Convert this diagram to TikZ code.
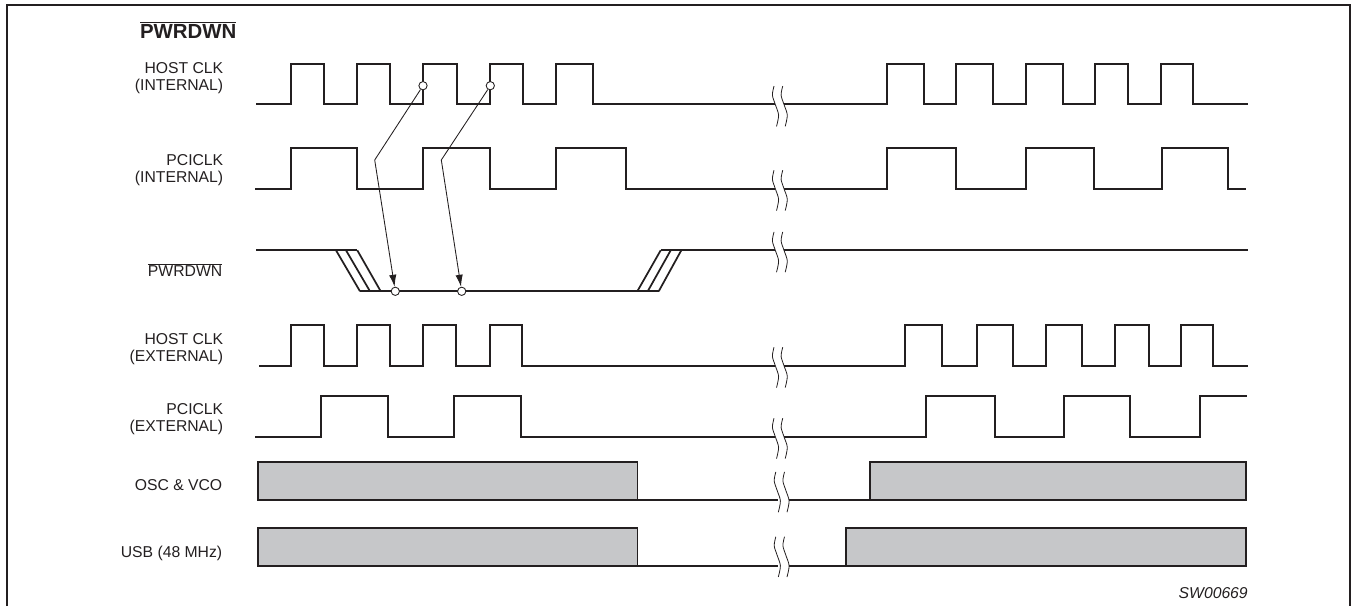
\documentclass[tikz,border=0pt]{standalone}
\usepackage{fontspec}
\setmainfont{Liberation Sans}
\usetikzlibrary{arrows.meta, positioning}

\definecolor{inkdark}{HTML}{231F20}
\definecolor{boxgrey}{HTML}{C6C7C9}

\newcommand{\signalbreak}[2]{%
    \foreach \d in {0,8.7} {
        \draw[wave, shift={(#1+\d,#2)}] plot[smooth] coordinates {(0,-18.4) (-1.6,-9.4) (1.3,0) (4.6,10.6) (2.5,21.9)};
    }
}

\begin{document}
\begin{tikzpicture}[
    x=0.75pt, y=-0.75pt,
    every node/.style={inner sep=0pt, text=inkdark},
    label/.style={anchor=base east, font=\fontsize{11.8}{12.75}\selectfont},
    twoline/.style={anchor=east, align=right, font=\fontsize{11.8}{12.75}\selectfont},
    signal/.style={draw=inkdark, line width=1.5pt, line join=miter},
    frameline/.style={draw=inkdark, line width=1.6pt},
    wave/.style={draw=inkdark, line width=0.6pt},
    edgeline/.style={draw=inkdark, line width=1.3pt},
    block/.style={draw=inkdark, fill=boxgrey, line width=1.4pt},
    pointer/.style={draw=inkdark, line width=0.65pt, -{Latex[length=9pt, width=5.5pt]}},
    dot/.style={circle, draw=inkdark, fill=white, line width=0.65pt, minimum size=6.2pt},
]
    \useasboundingbox (0,0) rectangle (1351,606);

    % Frame
    \draw[frameline] (6.6,606) |- (1350,5.4) -- (1350,606);

    % Labels
    \node (title) [anchor=base east, font=\bfseries\fontsize{15.3}{16}\selectfont] at (236.7,38.5) {$\overline{\mbox{PWRDWN}}$};
    \node (hostint) [twoline] at (223.5,78.5) {HOST CLK\\(INTERNAL)};
    \node (pciint) [twoline] at (223.5,170) {PCICLK\\(INTERNAL)};
    \node (pwrdwn) [label] at (222.5,276.7) {$\overline{\mbox{PWRDWN}}$};
    \node (hostext) [twoline] at (223.5,349) {HOST CLK\\(EXTERNAL)};
    \node (pciext) [twoline] at (223.5,419.5) {PCICLK\\(EXTERNAL)};
    \node (osc) [label] at (222.5,490) {OSC \& VCO};
    \node (usb) [label] at (222.5,557.3) {USB (48 MHz)};
    \node (code) [anchor=base east, font=\itshape\fontsize{11.8}{12}\selectfont] at (1248,598.3) {SW00669};

    % HOST CLK (INTERNAL)
    \draw[signal] (256,104.5) -| (290.7,64.3) -| (324,104.5) -| (356.7,64.3) -| (390,104.5) -| (423.3,64.3) -| (456.7,104.5) -| (489.7,64.3) -| (522.7,104.5) -| (555.7,64.3) -| (592.7,104.5) -- (775.2,104.5);
    \draw[signal] (783.5,104.5) -| (887.3,64.3) -| (924.3,104.5) -| (956.2,64.3) -| (993.2,104.5) -| (1025.6,64.3) -| (1062.5,104.5) -| (1094.5,64.3) -| (1128,104.5) -| (1161,64.3) -| (1192.5,104.5) -- (1247.8,104.5);
    \signalbreak{774}{104.5}

    % PCICLK (INTERNAL)
    \draw[signal] (255,188.7) -| (290.7,148.3) -| (356.7,188.7) -| (423.3,148.3) -| (489.7,188.7) -| (555.7,148.3) -| (625.7,188.7) -- (775.2,188.7);
    \draw[signal] (783.5,188.7) -| (887.3,148.3) -| (956.2,188.7) -| (1025.6,148.3) -| (1093.7,188.7) -| (1161.8,148.3) -| (1228.2,188.7) -- (1246,188.7);
    \signalbreak{774}{188.7}

    % PWRDWN
    \draw[signal] (256,250.3) -- (357.3,250.3);
    \draw[edgeline] (336,250.3) -- (360,291.3);
    \draw[edgeline] (346,250.3) -- (370,291.3);
    \draw[edgeline] (357.3,250.3) -- (380.7,291.3);
    \draw[signal] (360,291.3) -- (658.7,291.3);
    \draw[edgeline] (637.3,291.3) -- (660.7,250.3);
    \draw[edgeline] (647.7,291.3) -- (670.7,250.3);
    \draw[edgeline] (658.7,291.3) -- (681.3,250.3);
    \draw[signal] (660.7,250.3) -- (775.2,250.3);
    \draw[signal] (783.5,250.3) -- (1247.8,250.3);
    \signalbreak{774}{250.3}

    % HOST CLK (EXTERNAL)
    \draw[signal] (259,365.7) -| (291,325) -| (323.7,365.7) -| (357,325) -| (389.7,365.7) -| (423.2,325) -| (455.8,365.7) -| (489.7,325) -| (522.3,365.7) -- (775.2,365.7);
    \draw[signal] (783.5,365.7) -| (905.1,325) -| (942.1,365.7) -| (976.6,325) -| (1013.1,365.7) -| (1045.5,325) -| (1082,365.7) -| (1114.5,325) -| (1148.5,365.7) -| (1180.9,325) -| (1213.3,365.7) -- (1247.8,365.7);
    \signalbreak{774}{365.7}

    % PCICLK (EXTERNAL)
    \draw[signal] (255.4,436.7) -| (321.4,396) -| (388,436.7) -| (454,396) -| (520.5,436.7) -- (775.2,436.7);
    \draw[signal] (783.5,436.7) -| (925.9,396) -| (994.9,436.7) -| (1064.2,396) -| (1130.2,436.7) -| (1199.6,396) -- (1247,396);
    \signalbreak{774}{436.7}

    % OSC & VCO
    \draw[block] (258,461.7) rectangle (637.5,500.3);
    \draw[block] (869.9,461.7) rectangle (1245.7,500.3);
    \draw[signal] (258,500.3) -- (778,500.3);
    \draw[signal] (789,500.3) -- (1245.7,500.3);
    \signalbreak{775.8}{490.3}

    % USB (48 MHz)
    \draw[block] (258,527.7) rectangle (637.5,565.7);
    \draw[block] (845.8,527.7) rectangle (1245.7,565.7);
    \draw[signal] (258,565.7) -- (778,565.7);
    \draw[signal] (789,565.7) -- (1245.7,565.7);
    \signalbreak{775.8}{555.1}

    % Dots
    \node (hostA) [dot] at (423,85.7) {};
    \node (hostB) [dot] at (490.3,85.7) {};
    \node (downA) [dot] at (395.3,291.3) {};
    \node (downB) [dot] at (461.7,291.3) {};
    \coordinate (bendA) at (374.7,160);
    \coordinate (bendB) at (441.3,160);

    % Connections
    \draw[pointer] (hostA) -- (bendA) -- (downA);
    \draw[pointer] (hostB) -- (bendB) -- (downB);
\end{tikzpicture}
\end{document}
